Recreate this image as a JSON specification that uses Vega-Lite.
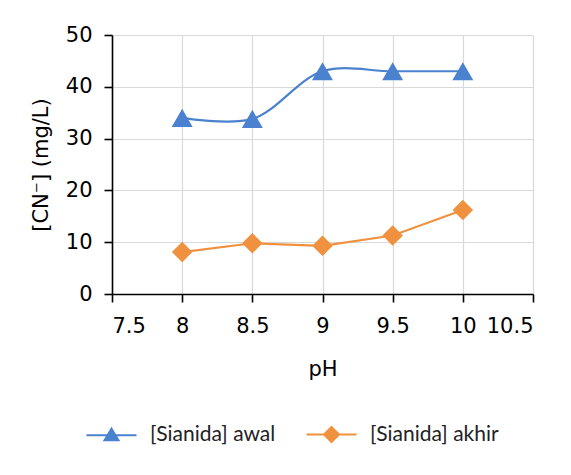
{
  "$schema": "https://vega.github.io/schema/vega-lite/v6.json",
  "autosize": "none",
  "width": 421,
  "height": 259,
  "padding": {"left": 112, "top": 35, "right": 38, "bottom": 181},
  "background": "white",
  "config": {
    "view": {"stroke": null},
    "font": "DejaVu Sans"
  },
  "data": {
    "values": [
      {"pH": 8, "value": 34.0, "series": "[Sianida] awal"},
      {"pH": 8.5, "value": 33.8, "series": "[Sianida] awal"},
      {"pH": 9, "value": 43.0, "series": "[Sianida] awal"},
      {"pH": 9.5, "value": 43.0, "series": "[Sianida] awal"},
      {"pH": 10, "value": 43.0, "series": "[Sianida] awal"},
      {"pH": 8, "value": 8.1, "series": "[Sianida] akhir"},
      {"pH": 8.5, "value": 9.8, "series": "[Sianida] akhir"},
      {"pH": 9, "value": 9.3, "series": "[Sianida] akhir"},
      {"pH": 9.5, "value": 11.3, "series": "[Sianida] akhir"},
      {"pH": 10, "value": 16.2, "series": "[Sianida] akhir"}
    ]
  },
  "encoding": {
    "x": {
      "field": "pH", "type": "quantitative",
      "scale": {"domain": [7.5, 10.5], "nice": false, "zero": false},
      "axis": {
        "title": "pH", "values": [7.5, 8, 8.5, 9, 9.5, 10, 10.5], "format": "~g",
        "titleFont": "DejaVu Sans", "labelFont": "DejaVu Sans",
        "titleFontSize": 21, "titleFontWeight": "normal", "titleColor": "#000", "titlePadding": 22,
        "labelFontSize": 21, "labelColor": "#000", "labelPadding": 13,
        "domainColor": "#000", "domainWidth": 1.6, "tickColor": "#000", "tickWidth": 1.6, "tickSize": 8,
        "gridColor": "#d9d9d9", "gridWidth": 1.2
      }
    },
    "y": {
      "field": "value", "type": "quantitative",
      "scale": {"domain": [0, 50], "nice": false},
      "axis": {
        "title": "[CN⁻] (mg/L)", "values": [0, 10, 20, 30, 40, 50],
        "titleFont": "DejaVu Sans", "labelFont": "DejaVu Sans",
        "titleFontSize": 21, "titleFontWeight": "normal", "titleColor": "#000", "titlePadding": 14,
        "labelFontSize": 21, "labelColor": "#000", "labelPadding": 12,
        "domainColor": "#000", "domainWidth": 1.6, "tickColor": "#000", "tickWidth": 1.6, "tickSize": 8,
        "gridColor": "#d9d9d9", "gridWidth": 1.2
      }
    }
  },
  "layer": [
    {
      "transform": [{"filter": "datum.series === '[Sianida] awal'"}],
      "mark": {"type": "line", "interpolate": "catmull-rom", "strokeWidth": 2.2, "color": "#4a82cf"},
      "encoding": {}
    },
    {
      "transform": [{"filter": "datum.series === '[Sianida] akhir'"}],
      "mark": {"type": "line", "interpolate": "linear", "strokeWidth": 2.2, "color": "#f0913f"},
      "encoding": {}
    },
    {
      "transform": [{"filter": "datum.series === '[Sianida] awal'"}],
      "mark": {"type": "point", "filled": true, "opacity": 1, "size": 440, "shape": "triangle-up", "color": "#4a82cf"},
      "encoding": {}
    },
    {
      "transform": [{"filter": "datum.series === '[Sianida] akhir'"}],
      "mark": {"type": "point", "filled": true, "opacity": 1, "size": 420, "shape": "diamond", "color": "#f0913f"},
      "encoding": {}
    },
    {
      "transform": [{"filter": "false"}],
      "mark": {"type": "point", "opacity": 1, "strokeWidth": 2},
      "encoding": {
        "fill": {
          "field": "series", "type": "nominal",
          "scale": {"domain": ["[Sianida] awal", "[Sianida] akhir"], "range": ["#4a82cf", "#f0913f"]},
          "legend": {
            "title": null, "orient": "none", "direction": "horizontal",
            "legendX": -11, "legendY": 389,
            "labelFont": "Lato", "labelFontSize": 21, "labelColor": "#222",
            "symbolSize": 100, "symbolStrokeWidth": 2, "labelOffset": 28, "columnPadding": 26
          }
        },
        "stroke": {
          "field": "series", "type": "nominal",
          "scale": {"domain": ["[Sianida] awal", "[Sianida] akhir"], "range": ["#4a82cf", "#f0913f"]}
        },
        "shape": {
          "field": "series", "type": "nominal",
          "scale": {"domain": ["[Sianida] awal", "[Sianida] akhir"], "range": ["M-5,0H5M-1.4,1L0,-1.3L1.4,1Z", "M-5,0H5M0,-1.5L1.5,0L0,1.5L-1.5,0Z"]}
        }
      }
    }
  ]
}
